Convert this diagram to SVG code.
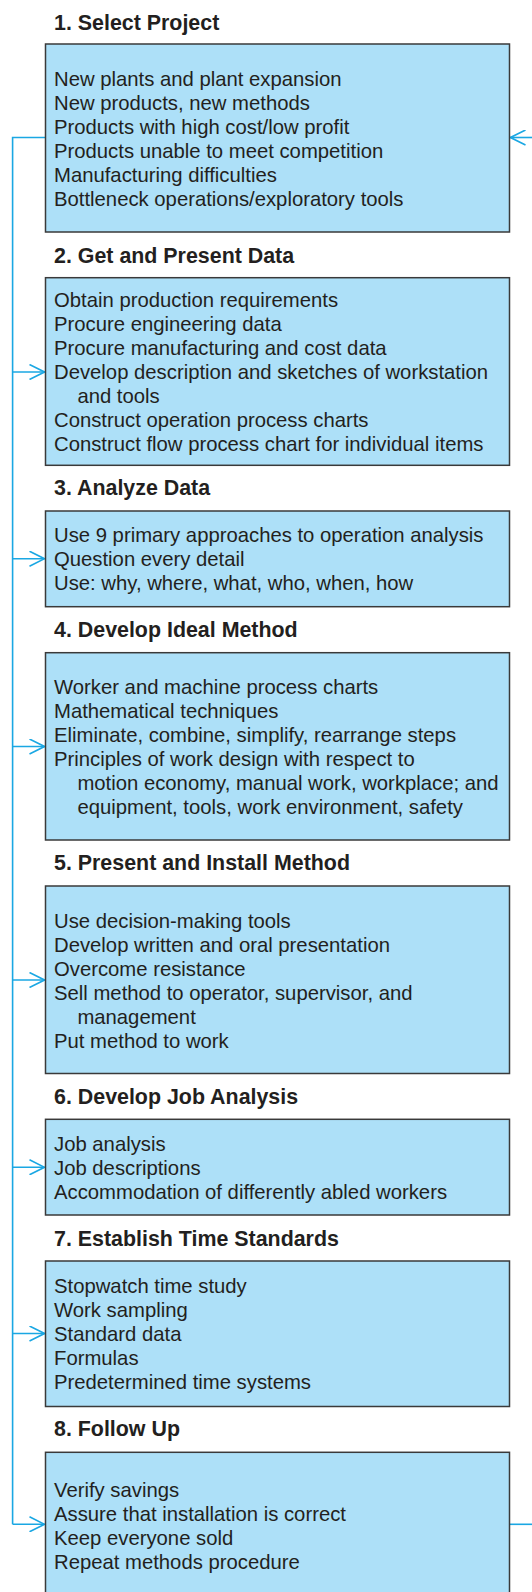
<svg xmlns="http://www.w3.org/2000/svg" width="532" height="1592" viewBox="0 0 532 1592">
  <style>
    .box { fill: #ade0f8; stroke: #3a3a3a; stroke-width: 1.5; }
    .title { font-family: "Liberation Sans", Arial, sans-serif; font-weight: bold; font-size: 21.4px; fill: #231f20; }
    .body { font-family: "Liberation Sans", Arial, sans-serif; font-size: 20.3px; fill: #231f20; }
    .link { fill: none; stroke: #1aa7e3; stroke-width: 1.6; }
  </style>
  <defs>
    <marker id="chev" viewBox="0 0 17 16" refX="16" refY="8" markerWidth="17" markerHeight="16" markerUnits="userSpaceOnUse" orient="auto">
      <path d="M1,0.5 L16,8 L1,15.5" fill="none" stroke="#1aa7e3" stroke-width="1.6"/>
    </marker>
  </defs>
  <rect width="532" height="1592" fill="#ffffff"/>

  <!-- feedback loop and entry arrows -->
  <g id="connectors">
    <path class="link" d="M45.5,137.5 H12.6 V1524.3"/>
    <path class="link" d="M12.6,372 H44.5" marker-end="url(#chev)"/>
    <path class="link" d="M12.6,558.7 H44.5" marker-end="url(#chev)"/>
    <path class="link" d="M12.6,746.5 H44.5" marker-end="url(#chev)"/>
    <path class="link" d="M12.6,980 H44.5" marker-end="url(#chev)"/>
    <path class="link" d="M12.6,1167.3 H44.5" marker-end="url(#chev)"/>
    <path class="link" d="M12.6,1333.5 H44.5" marker-end="url(#chev)"/>
    <path class="link" d="M12.6,1524.3 H44.5" marker-end="url(#chev)"/>
    <path class="link" d="M509.5,1524.3 H533"/>
    <path class="link" d="M533,137.5 H510.5" marker-end="url(#chev)"/>
  </g>

  <g id="step1">
    <text class="title" x="54" y="29.5">1. Select Project</text>
    <rect class="box" x="45.5" y="44" width="464" height="188"/>
    <text class="body">
      <tspan x="54" y="86">New plants and plant expansion</tspan>
      <tspan x="54" y="110">New products, new methods</tspan>
      <tspan x="54" y="134">Products with high cost/low profit</tspan>
      <tspan x="54" y="158">Products unable to meet competition</tspan>
      <tspan x="54" y="182">Manufacturing difficulties</tspan>
      <tspan x="54" y="206">Bottleneck operations/exploratory tools</tspan>
    </text>
  </g>

  <g id="step2">
    <text class="title" x="54" y="262.7">2. Get and Present Data</text>
    <rect class="box" x="45.5" y="277.7" width="464" height="187.6"/>
    <text class="body">
      <tspan x="54" y="306.7">Obtain production requirements</tspan>
      <tspan x="54" y="330.7">Procure engineering data</tspan>
      <tspan x="54" y="354.7">Procure manufacturing and cost data</tspan>
      <tspan x="54" y="378.7">Develop description and sketches of workstation</tspan>
      <tspan x="77.4" y="402.7">and tools</tspan>
      <tspan x="54" y="426.7">Construct operation process charts</tspan>
      <tspan x="54" y="450.7">Construct flow process chart for individual items</tspan>
    </text>
  </g>

  <g id="step3">
    <text class="title" x="54" y="495">3. Analyze Data</text>
    <rect class="box" x="45.5" y="511" width="464" height="95.7"/>
    <text class="body">
      <tspan x="54" y="542">Use 9 primary approaches to operation analysis</tspan>
      <tspan x="54" y="566">Question every detail</tspan>
      <tspan x="54" y="590">Use: why, where, what, who, when, how</tspan>
    </text>
  </g>

  <g id="step4">
    <text class="title" x="54" y="636.7">4. Develop Ideal Method</text>
    <rect class="box" x="45.5" y="652.7" width="464" height="187.3"/>
    <text class="body">
      <tspan x="54" y="694">Worker and machine process charts</tspan>
      <tspan x="54" y="718">Mathematical techniques</tspan>
      <tspan x="54" y="742">Eliminate, combine, simplify, rearrange steps</tspan>
      <tspan x="54" y="766">Principles of work design with respect to</tspan>
      <tspan x="77.4" y="790">motion economy, manual work, workplace; and</tspan>
      <tspan x="77.4" y="814">equipment, tools, work environment, safety</tspan>
    </text>
  </g>

  <g id="step5">
    <text class="title" x="54" y="870">5. Present and Install Method</text>
    <rect class="box" x="45.5" y="886" width="464" height="187.5"/>
    <text class="body">
      <tspan x="54" y="927.5">Use decision-making tools</tspan>
      <tspan x="54" y="951.5">Develop written and oral presentation</tspan>
      <tspan x="54" y="975.5">Overcome resistance</tspan>
      <tspan x="54" y="999.5">Sell method to operator, supervisor, and</tspan>
      <tspan x="77.4" y="1023.5">management</tspan>
      <tspan x="54" y="1047.5">Put method to work</tspan>
    </text>
  </g>

  <g id="step6">
    <text class="title" x="54" y="1103.5">6. Develop Job Analysis</text>
    <rect class="box" x="45.5" y="1119.3" width="464" height="95.7"/>
    <text class="body">
      <tspan x="54" y="1151">Job analysis</tspan>
      <tspan x="54" y="1175">Job descriptions</tspan>
      <tspan x="54" y="1199">Accommodation of differently abled workers</tspan>
    </text>
  </g>

  <g id="step7">
    <text class="title" x="54" y="1245.5">7. Establish Time Standards</text>
    <rect class="box" x="45.5" y="1261" width="464" height="145.5"/>
    <text class="body">
      <tspan x="54" y="1293.3">Stopwatch time study</tspan>
      <tspan x="54" y="1317.3">Work sampling</tspan>
      <tspan x="54" y="1341.3">Standard data</tspan>
      <tspan x="54" y="1365.3">Formulas</tspan>
      <tspan x="54" y="1389.3">Predetermined time systems</tspan>
    </text>
  </g>

  <g id="step8">
    <text class="title" x="54" y="1436">8. Follow Up</text>
    <rect class="box" x="45.5" y="1452.3" width="464" height="144"/>
    <text class="body">
      <tspan x="54" y="1496.7">Verify savings</tspan>
      <tspan x="54" y="1520.7">Assure that installation is correct</tspan>
      <tspan x="54" y="1544.7">Keep everyone sold</tspan>
      <tspan x="54" y="1568.7">Repeat methods procedure</tspan>
    </text>
  </g>
</svg>
